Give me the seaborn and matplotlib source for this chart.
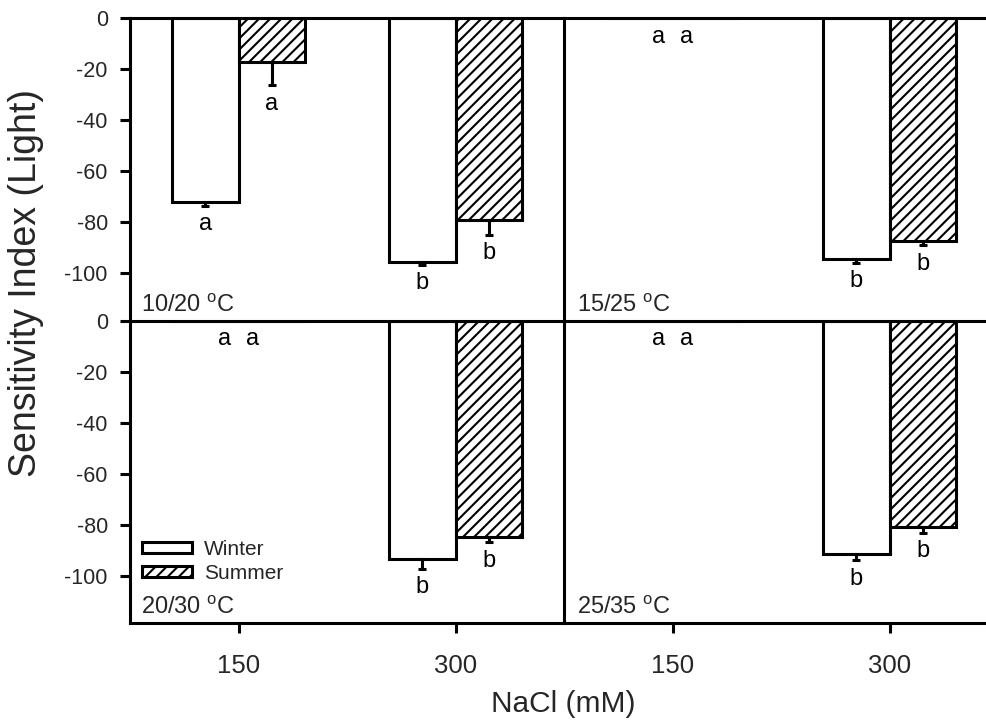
import matplotlib
matplotlib.use("Agg")
import matplotlib.pyplot as plt
from matplotlib.patches import Patch
import seaborn as sns
import pandas as pd

# ---------------- data ----------------
panel_labels = ["10/20", "15/25", "20/30", "25/35"]
nacl_levels = ["150", "300"]
seasons = ["Winter", "Summer"]

winter_mean = [[-72.1, -95.7], [0.0, -94.5], [0.0, -93.4], [0.0, -91.4]]
winter_err = [[1.5, 1.0], [0.0, 1.5], [0.0, 3.9], [0.0, 2.7]]
summer_mean = [[-17.4, -79.1], [0.0, -87.6], [0.0, -84.8], [0.0, -80.9]]
summer_err = [[9.0, 5.9], [0.0, 1.5], [0.0, 2.0], [0.0, 2.3]]
winter_letters = [["a", "b"], ["a", "b"], ["a", "b"], ["a", "b"]]
summer_letters = [["a", "b"], ["a", "b"], ["a", "b"], ["a", "b"]]

y_ticks = [0, -20, -40, -60, -80, -100]

# ---------------- style ----------------
sns.set_theme(style="ticks")
plt.rcParams["font.family"] = ["Liberation Sans", "DejaVu Sans"]
plt.rcParams["mathtext.default"] = "regular"
plt.rcParams["axes.unicode_minus"] = False
plt.rcParams["hatch.linewidth"] = 1.5
plt.rcParams["hatch.color"] = "black"

W, H = 986, 723
fig = plt.figure(figsize=(W / 100, H / 100), dpi=100)

x_left = 130
col_w = 434
y_top = 18
row_h = 302.6

LW = 2.2

axes = []
for i, panel in enumerate(panel_labels):
    r, c = divmod(i, 2)
    x0 = (x_left + c * col_w) / W
    y0 = 1 - (y_top + (r + 1) * row_h) / H
    ax = fig.add_axes([x0, y0, col_w / W, row_h / H])
    axes.append(ax)

    df = pd.DataFrame({
        "NaCl": nacl_levels * 2,
        "Season": ["Winter"] * 2 + ["Summer"] * 2,
        "SI": winter_mean[i] + summer_mean[i],
        "err": winter_err[i] + summer_err[i],
        "letter": winter_letters[i] + summer_letters[i],
    })

    sns.barplot(data=df, x="NaCl", y="SI", hue="Season", order=nacl_levels,
                hue_order=seasons, palette=["white", "white"], saturation=1,
                edgecolor="black", linewidth=LW, width=0.61, gap=0,
                errorbar=None, legend=False, ax=ax)

    for cont, season in zip(ax.containers, seasons):
        sub = df[df["Season"] == season].reset_index(drop=True)
        for k, bar in enumerate(cont):
            if season == "Summer":
                bar.set_hatch("///")
            xc = bar.get_x() + bar.get_width() / 2
            v = sub.loc[k, "SI"]
            e = sub.loc[k, "err"]
            if e > 0:
                ax.errorbar(xc, v, yerr=[[e], [0]], fmt="none", ecolor="black",
                            elinewidth=LW, capsize=3, capthick=LW, zorder=1)
            if v == 0:
                tx = k + (-0.065 if season == "Winter" else 0.065)
            else:
                tx = xc
            ax.text(tx, v - e - 3, sub.loc[k, "letter"], ha="center", va="top",
                    fontsize=17, color="black")

    ax.set_ylim(-118.7, 0)
    ax.set_xlim(-0.5, 1.5)
    ax.set_yticks(y_ticks)
    ax.set_xlabel("")
    ax.set_ylabel("")
    for s in ax.spines.values():
        s.set_linewidth(LW)
        s.set_color("black")
        s.set_visible(True)
    ax.spines["right"].set_visible(False)
    if r == 0:
        ax.spines["bottom"].set_visible(False)
    ax.tick_params(axis="both", direction="out", length=7, width=LW, color="black")
    ax.tick_params(axis="y", labelsize=15.5, pad=9)
    ax.tick_params(axis="x", labelsize=18.5, pad=15)
    if c == 1:
        ax.tick_params(axis="y", left=False, labelleft=False)
    if r == 0:
        ax.tick_params(axis="x", bottom=False, labelbottom=False)
    ax.text(0.025 if c == 0 else 0.03, 0.03, f"{panel} $^{{o}}$C",
            transform=ax.transAxes, fontsize=17, va="baseline", ha="left")

# legend in lower-left panel
handles = [Patch(facecolor="white", edgecolor="black", linewidth=LW),
           Patch(facecolor="white", edgecolor="black", linewidth=LW, hatch="///")]
axes[2].legend(handles, seasons, loc="upper left", bbox_to_anchor=(0.028, 0.275),
               frameon=False, fontsize=15, handlelength=2.4, handleheight=0.45,
               handletextpad=0.55, labelspacing=0.25, borderaxespad=0, borderpad=0)

fig.text(563 / W, 1 - 712 / H, "NaCl (mM)", ha="center", va="baseline", fontsize=21.5)
fig.text(26 / W, 1 - 283 / H, "Sensitivity Index (Light)", rotation=90,
         ha="center", va="center", fontsize=27)

fig.savefig("out.png", dpi=100)
